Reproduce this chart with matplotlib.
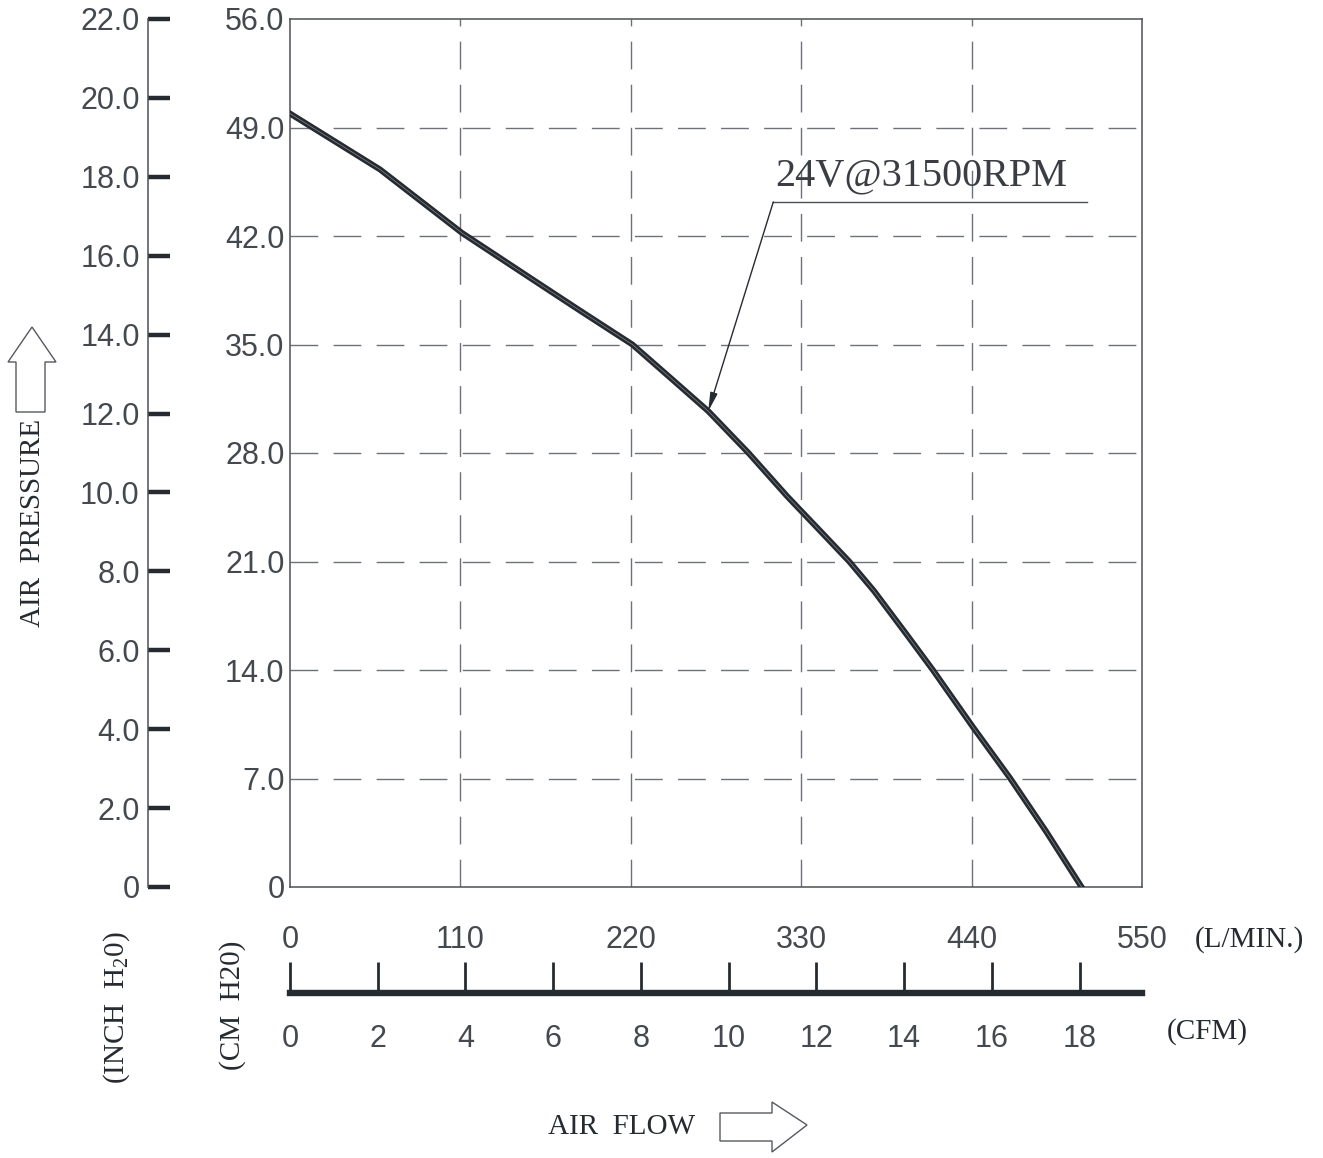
import numpy as np
import matplotlib
matplotlib.use('Agg')
import matplotlib.pyplot as plt
from matplotlib import font_manager as fm
from matplotlib.patches import Polygon

W, H = 1323, 1158

# curve: air flow [L/min] vs air pressure [cm H2O]
flow_lpm = [0, 58, 111, 155, 187, 221, 245, 270, 296, 321, 342, 361, 377, 398, 415, 441, 465, 488, 511]
pressure_cm = [49.9, 46.3, 42.2, 39.3, 37.2, 35.0, 32.9, 30.7, 28.0, 25.2, 23.0, 21.0, 19.1, 16.3, 14.0, 10.3, 7.0, 3.6, 0]
ARROW_AT = 7  # index of the curve point the label arrow touches

cm_ticks = [0, 7, 14, 21, 28, 35, 42, 49, 56]
cm_labels = ['0', '7.0', '14.0', '21.0', '28.0', '35.0', '42.0', '49.0', '56.0']
inch_ticks = [0, 2, 4, 6, 8, 10, 12, 14, 16, 18, 20, 22]
inch_labels = ['0'] + ['%.1f' % v for v in inch_ticks[1:]]
lpm_ticks = [0, 110, 220, 330, 440, 550]
cfm_ticks = [0, 2, 4, 6, 8, 10, 12, 14, 16, 18]
LPM_PER_CFM = 28.3168
curve_label = '24V@31500RPM'


# thin narrow-ish sans for the numbers: Roboto Light if it is there
def digit_props(size):
    try:
        f = fm.findfont(fm.FontProperties(family='Roboto', weight='light'), fallback_to_default=False)
        if 'light' in f.lower():
            return fm.FontProperties(fname=f, size=size)
    except Exception:
        pass
    return fm.FontProperties(family=['Liberation Sans', 'DejaVu Sans'], size=size)


serif_font = ['Liberation Serif', 'DejaVu Serif']
plt.rcParams['mathtext.fontset'] = 'custom'
plt.rcParams['mathtext.rm'] = 'Liberation Serif'
plt.rcParams['mathtext.it'] = 'Liberation Serif'

dark = '#262b31'
gray = '#4b4f56'
digit_col = '#44484f'
dprops = digit_props(22)


def px(x, y):
    return (x / W, 1 - y / H)


fig = plt.figure(figsize=(W / 100, H / 100), dpi=100)

# main chart
ax = fig.add_axes([290 / W, (H - 887) / H, 852 / W, 868 / H])
ax.set_xlim(0, 550)
ax.set_ylim(0, 56)
for v in lpm_ticks[1:-1]:
    ax.axvline(v, color='#6e7177', lw=1.0, ls=(0, (20, 11)), zorder=1)
for v in cm_ticks[1:-1]:
    ax.axhline(v, color='#6e7177', lw=1.0, ls=(0, (20, 11)), zorder=1)
for s in ax.spines.values():
    s.set_color(gray)
    s.set_linewidth(1.1)

ax.set_yticks(cm_ticks)
ax.set_yticklabels(cm_labels, fontproperties=dprops, color=digit_col)
ax.set_xticks(lpm_ticks)
ax.set_xticklabels([str(v) for v in lpm_ticks], fontproperties=dprops, color=digit_col)
ax.tick_params(axis='y', length=0, pad=4)
ax.tick_params(axis='x', length=0, pad=27)

ax.plot(flow_lpm, pressure_cm, color=dark, lw=4.3, solid_joinstyle='round', zorder=3)
ax.plot(flow_lpm, pressure_cm, color='#9aa0a6', lw=0.4, zorder=4)

# annotation with underline and leader arrow
tip = (flow_lpm[ARROW_AT], pressure_cm[ARROW_AT])
anchor = (312, 44.2)
ax.annotate('', xy=tip, xytext=anchor,
            arrowprops=dict(arrowstyle='-|>,head_length=1.1,head_width=0.22',
                            color=dark, lw=1.0, shrinkA=0, shrinkB=0))
ax.plot([anchor[0], 514.5], [anchor[1], anchor[1]], color=gray, lw=1.0)
ax.text(anchor[0] + 1, anchor[1] + 0.45, curve_label, fontfamily=serif_font,
        fontsize=29, color='#3a3e44', ha='left', va='bottom')

# inch H2O scale on the left
ax_in = fig.add_axes([148 / W, (H - 887) / H, 0.02, 868 / H])
ax_in.set_ylim(0, 22)
ax_in.set_xticks([])
for k in ['top', 'right', 'bottom']:
    ax_in.spines[k].set_visible(False)
ax_in.spines['left'].set_color(gray)
ax_in.spines['left'].set_linewidth(1.1)
ax_in.patch.set_visible(False)
ax_in.set_yticks(inch_ticks)
ax_in.set_yticklabels(inch_labels, fontproperties=dprops, color=digit_col)
ax_in.tick_params(axis='y', direction='in', length=16, width=3.2, color=dark, pad=6)

# CFM scale below
ax_cfm = fig.add_axes([290 / W, (H - 993) / H, 852 / W, 0.02])
ax_cfm.set_xlim(0, 550)
ax_cfm.set_yticks([])
for k in ['top', 'right', 'left']:
    ax_cfm.spines[k].set_visible(False)
ax_cfm.spines['bottom'].set_color(dark)
ax_cfm.spines['bottom'].set_linewidth(4.6)
ax_cfm.patch.set_visible(False)
ax_cfm.set_xticks([c * LPM_PER_CFM for c in cfm_ticks])
ax_cfm.set_xticklabels([str(c) for c in cfm_ticks], fontproperties=dprops, color=digit_col)
ax_cfm.tick_params(axis='x', direction='in', length=22, width=2.0, color=dark, pad=22)

# unit labels
fig.text(*px(1195, 940), '(L/MIN.)', fontfamily=serif_font, fontsize=21, color=dark, ha='left', va='center')
fig.text(*px(1167, 1032), '(CFM)', fontfamily=serif_font, fontsize=21, color=dark, ha='left', va='center')
fig.text(*px(117, 1008), '(INCH  H$_2$0)', fontfamily=serif_font, fontsize=21, color=dark,
         ha='center', va='center', rotation=90)
fig.text(*px(233, 1005), '(CM  H20)', fontfamily=serif_font, fontsize=21, color=dark,
         ha='center', va='center', rotation=90)
fig.text(*px(33, 523), 'AIR  PRESSURE', fontfamily=serif_font, fontsize=21, color=dark,
         ha='center', va='center', rotation=90)
fig.text(*px(622, 1127), 'AIR  FLOW', fontfamily=serif_font, fontsize=21, color=dark,
         ha='center', va='center')

# hollow arrows
up = [(16, 412), (16, 362), (8, 362), (32, 327), (56, 362), (45, 362), (45, 412)]
right = [(720, 1113), (772, 1113), (772, 1102), (807, 1125), (772, 1152), (772, 1141), (720, 1141)]
for pts in (up, right):
    fig.add_artist(Polygon([px(x, y) for x, y in pts], closed=True, fill=False,
                           edgecolor='#55595f', lw=1.0, transform=fig.transFigure))

fig.savefig('out.png', dpi=100)
